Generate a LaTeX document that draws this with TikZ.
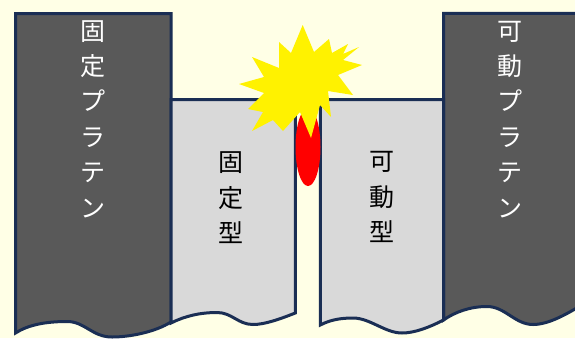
\documentclass[tikz,border=0pt]{standalone}
\usepackage{fontspec}
\newfontfamily\jpfont{Noto Sans CJK JP}
\definecolor{bgcream}{RGB}{255,255,230}
\definecolor{edgeblue}{RGB}{26,46,84}
\definecolor{platengray}{RGB}{89,89,89}
\definecolor{moldgray}{RGB}{217,217,217}

\begin{document}
\begin{tikzpicture}[x=1pt,y=-1pt]
	\tikzstyle{every node}+=[inner sep=0pt]
	\tikzstyle{part}=[draw=edgeblue, line width=3pt]
	\tikzstyle{tate}=[align=center, font=\jpfont\fontsize{25}{35.4}\selectfont]
	\useasboundingbox (0,0) rectangle (575,338);
	\clip (0,0) rectangle (575,338);
	\fill [bgcream] (0,0) rectangle (575,338);
	% platens
	\filldraw [part, fill=platengray] (15.5,13.5) -- (171,13.5) -- (171,322)
		.. controls (155,332) and (130,337) .. (112,337)
		.. controls (92,337) and (85,321.5) .. (67,321.5)
		.. controls (45,321.5) and (28,325) .. (15.5,333) -- cycle;
	\filldraw [part, fill=platengray] (443.5,13.3) -- (580,13.3) -- (580,306)
		.. controls (565,315) and (548,324.5) .. (533,324.5)
		.. controls (515,324.5) and (505,306.5) .. (487,306.5)
		.. controls (470,306.5) and (455,312) .. (443.5,320) -- cycle;
	% molds
	\filldraw [part, fill=moldgray] (171,99.5) -- (295.3,99.5) -- (295.3,313)
		.. controls (280,319) and (265,324.5) .. (253,324.5)
		.. controls (238,324.5) and (232,312.5) .. (217,312.5)
		.. controls (200,312.5) and (185,316) .. (171,323) -- cycle;
	\filldraw [part, fill=moldgray] (320.3,99.5) -- (443.5,99.5) -- (443.5,320)
		.. controls (430,327) and (415,333) .. (402,333)
		.. controls (385,333) and (370,318) .. (353,318)
		.. controls (340,318) and (330,320) .. (320.3,325) -- cycle;
	% flash between the molds
	\fill [red] (308,147) ellipse (12.5 and 39);
	\fill [yellow] (302.7,25) -- (314,52) -- (329,39) -- (332,53) -- (348,44)
		-- (343,54) -- (359,47) -- (343,60) -- (362,65) -- (338,75)
		-- (353,95) -- (328,91) -- (331,117) -- (320,105) -- (311,138)
		-- (300,112) -- (283,131) -- (273,120) -- (252,131) -- (263,112)
		-- (248,109) -- (264,93) -- (239,84) -- (264,77) -- (252,57)
		-- (279,68) -- (279,42) -- (291,53) -- cycle;
	% labels
	\node [tate, text=white] (koteipl) at (93,119) {固\\定\\プ\\ラ\\テ\\ン};
	\node [tate, text=white] (kadoupl) at (510,119.3) {可\\動\\プ\\ラ\\テ\\ン};
	\node [tate] (koteigata) at (231,198) {固\\定\\型};
	\node [tate] (kadougata) at (382,197) {可\\動\\型};
\end{tikzpicture}
\end{document}
